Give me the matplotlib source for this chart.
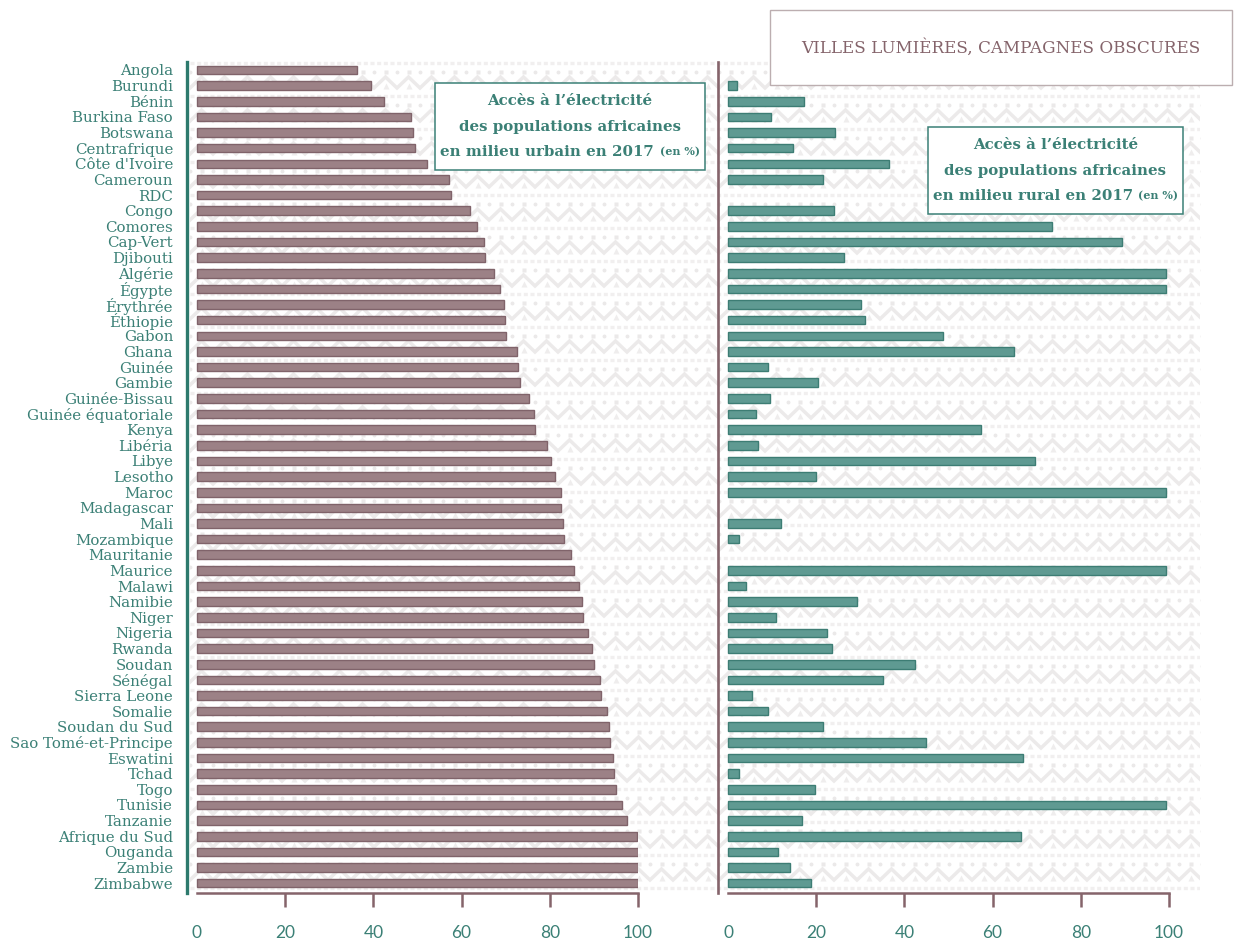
import numpy as np
import matplotlib.pyplot as plt
from matplotlib.patches import Rectangle
from matplotlib.offsetbox import TextArea, VPacker, HPacker, AnnotationBbox, DrawingArea

countries = [
    "Angola", "Burundi", "Bénin", "Burkina Faso", "Botswana", "Centrafrique",
    "Côte d'Ivoire", "Cameroun", "RDC", "Congo", "Comores", "Cap-Vert",
    "Djibouti", "Algérie", "Égypte", "Érythrée", "Éthiopie", "Gabon", "Ghana",
    "Guinée", "Gambie", "Guinée-Bissau", "Guinée équatoriale", "Kenya",
    "Libéria", "Libye", "Lesotho", "Maroc", "Madagascar", "Mali", "Mozambique",
    "Mauritanie", "Maurice", "Malawi", "Namibie", "Niger", "Nigeria", "Rwanda",
    "Soudan", "Sénégal", "Sierra Leone", "Somalie", "Soudan du Sud",
    "Sao Tomé-et-Principe", "Eswatini", "Tchad", "Togo", "Tunisie", "Tanzanie",
    "Afrique du Sud", "Ouganda", "Zambie", "Zimbabwe",
]

# accès à l'électricité en milieu urbain, 2017 (%)
urbain = [
    36.2, 39.4, 42.3, 48.6, 48.9, 49.4, 52.2, 57.1, 57.6, 61.9, 63.5, 65.1,
    65.3, 67.3, 68.7, 69.6, 69.8, 70.1, 72.6, 72.8, 73.2, 75.3, 76.4, 76.6,
    79.4, 80.3, 81.2, 82.5, 82.5, 83.0, 83.2, 84.8, 85.5, 86.6, 87.3, 87.5,
    88.7, 89.6, 90.0, 91.4, 91.6, 93.0, 93.4, 93.7, 94.3, 94.6, 95.0, 96.4,
    97.5, 99.8, 100.0, 100.0, 100.0,
]

# accès à l'électricité en milieu rural, 2017 (%)
rural = [
    0.0, 2.0, 17.2, 9.8, 24.3, 14.7, 36.5, 21.5, 0.0, 24.0, 73.5, 89.3,
    26.3, 99.3, 99.3, 30.2, 31.1, 48.8, 64.9, 9.1, 20.4, 9.5, 6.3, 57.4,
    6.8, 69.6, 20.0, 99.3, 0.0, 12.0, 2.5, 0.0, 99.3, 4.0, 29.3, 10.9,
    22.4, 23.6, 42.4, 35.1, 5.5, 9.0, 21.5, 45.0, 67.0, 2.5, 19.7, 99.3,
    16.7, 66.4, 11.4, 14.1, 18.8,
]

TEAL = '#3b8076'
TEAL_DARK = '#2d7a6d'
MAUVE = '#85646b'
URB_FACE, URB_EDGE = '#9c8186', '#80636a'
RUR_FACE, RUR_EDGE = '#5f9a92', '#3d7d74'
SERIF = 'DejaVu Serif'

W, H = 1235, 951
fig = plt.figure(figsize=(W / 100, H / 100), dpi=100)
fig.patch.set_facecolor('white')


def px_box(x0, y0, x1, y1):
    return [x0 / W, 1 - y1 / H, (x1 - x0) / W, (y1 - y0) / H]


# motif de fond : frises de chevrons, points et petites flèches
bg = fig.add_axes(px_box(190, 60, 1200, 892))
bg.set_xlim(0, 1010)
bg.set_ylim(832, 0)
bg.axis('off')
step = 11.5
xs = np.arange(0, 1030, step)
parity = np.arange(len(xs)) % 2
for y0 in np.arange(3, 832, 33):
    bg.plot([0, 1010], [y0, y0], color='#f1efef', lw=2.4, ls=(0, (1.2, 0.8)))
    bg.plot(xs[parity == 0], np.full((parity == 0).sum(), y0 + 8.5), 'o',
            ms=2.8, color='#ebe9e9', mec='none')
    bg.plot(xs[parity == 1], np.full((parity == 1).sum(), y0 + 8.5), 's',
            ms=2.4, color='#ebe9e9', mec='none')
    zz = y0 + np.where(parity == 0, 25, 14)
    bg.plot(xs, zz, color='#eceaea', lw=2.5, solid_joinstyle='miter')
    bg.plot(xs[parity == 1], np.full((parity == 1).sum(), y0 + 22.5), '^',
            ms=4, color='#efeded', mec='none')

y = np.arange(len(countries))
axL = fig.add_axes(px_box(187, 62, 638, 893))
axR = fig.add_axes(px_box(718, 62, 1169, 893))

panels = [
    (axL, urbain, URB_FACE, URB_EDGE, TEAL_DARK, 2.4),
    (axR, rural, RUR_FACE, RUR_EDGE, MAUVE, 1.9),
]
for ax, vals, face, edge, spine_col, spine_lw in panels:
    ax.set_facecolor('none')
    ax.barh(y, vals, height=0.55, color=face, edgecolor=edge,
            linewidth=[1 if v > 0 else 0 for v in vals])
    ax.set_xlim(-10 / 4.41, 100)
    ax.set_ylim(len(countries) - 1 + 0.63, -0.51)
    ax.spines['top'].set_visible(False)
    ax.spines['right'].set_visible(False)
    ax.spines['left'].set_color(spine_col)
    ax.spines['left'].set_linewidth(spine_lw)
    ax.spines['bottom'].set_bounds(0, 100)
    ax.spines['bottom'].set_color(MAUVE)
    ax.spines['bottom'].set_linewidth(1.8)
    ax.set_xticks(range(0, 101, 20))
    ax.tick_params(axis='x', direction='out', length=10, width=1.8, color=MAUVE,
                   labelcolor=TEAL, labelsize=12.5, pad=13)
    for lab in ax.get_xticklabels():
        lab.set_fontfamily('Lato')
    ax.xaxis.get_major_ticks()[0].tick1line.set_visible(False)

axL.set_yticks(y, countries)
axL.tick_params(axis='y', length=0, pad=10, labelcolor=TEAL, labelsize=10.8)
for lab in axL.get_yticklabels():
    lab.set_fontfamily(SERIF)
axR.set_yticks([])

# titre encadré
fig.patches.append(Rectangle((770 / W, 1 - 85 / H), 462 / W, 75 / H,
                             transform=fig.transFigure, facecolor='white',
                             edgecolor='#bcaeb0', linewidth=1, zorder=5))
fig.text(1001 / W, 1 - 48 / H, "VILLES LUMIÈRES, CAMPAGNES OBSCURES",
         ha='center', va='center', color=MAUVE, fontsize=12.1,
         fontfamily=SERIF, zorder=6)


def legend_box(milieu, cx, cy):
    prop = dict(color=TEAL, fontsize=10.8, fontweight='bold', fontfamily=SERIF)
    small = dict(color=TEAL, fontsize=8, fontweight='bold', fontfamily=SERIF)
    l1 = TextArea("Accès à l’électricité", textprops=prop)
    l2 = TextArea("des populations africaines", textprops=prop)
    l3 = HPacker(children=[TextArea(f"en milieu {milieu} en 2017", textprops=prop),
                           TextArea("(en %)", textprops=small)],
                 align='baseline', pad=0, sep=4)
    lines = VPacker(children=[l1, l2, l3], align='center', pad=0, sep=8)
    box = VPacker(children=[DrawingArea(1, 4.5), lines, DrawingArea(1, 4.5)],
                  align='center', pad=0, sep=0)
    ab = AnnotationBbox(box, (cx / W, 1 - cy / H), xycoords='figure fraction',
                        box_alignment=(0.5, 0.5), pad=0.35, frameon=True,
                        bboxprops=dict(edgecolor=TEAL, facecolor='white', linewidth=1.1))
    ab.set_zorder(6)
    fig.add_artist(ab)


legend_box("urbain", 570, 126.5)
legend_box("rural", 1055.5, 170.5)

fig.savefig('out.png', dpi=100)
